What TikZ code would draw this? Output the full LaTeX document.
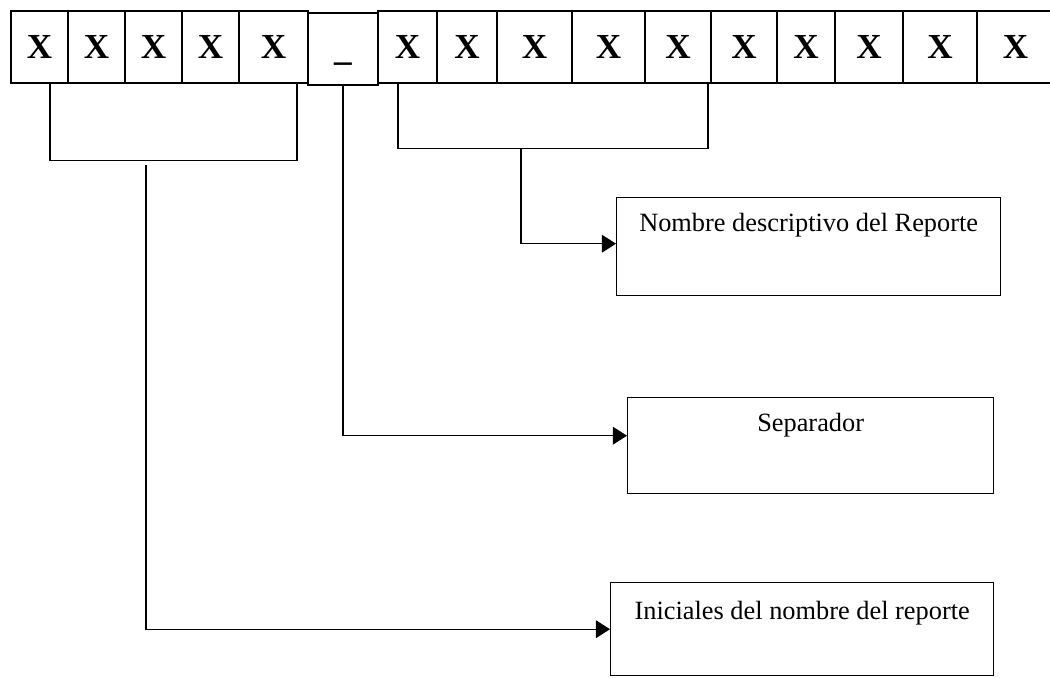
\documentclass[tikz,border=0pt]{standalone}
\usepackage{fontspec}
\setmainfont{Liberation Serif}
\usetikzlibrary{arrows.meta}

\begin{document}
\begin{tikzpicture}[x=0.02cm,y=-0.02cm,line width=0.8pt,
    cell/.style={draw,inner sep=0pt,minimum height=1.44cm,
      text height=13.3pt,text depth=0pt,
      font=\fontsize{20}{24}\selectfont\bfseries},
    infobox/.style={draw,anchor=north west,inner sep=0pt,align=center,
      font=\fontsize{15}{18}\selectfont},
    link/.style={-{Triangle[length=8pt,width=10pt]}}]
      \def\rowy{47}

      \useasboundingbox (0,0) rectangle (1050,677);

      % the row of characters
      \foreach \l/\r/\n in {11/68/1,68/125/2,125/182/3,182/239/4,239/308/5,
          378/437/6,437/497/7,497/572/8,572/645/9,645/711/10,
          711/777/11,777/835/12,835/903/13,903/977/14,977/1054/15}
        \node[cell,minimum width={(\r-\l)*0.02cm}] (c\n) at ({(\l+\r)/2},\rowy) {X};
      \node[cell,minimum width=1.4cm] (sep) at (343,\rowy+2) {\_};

      % boxes
      \node[infobox,minimum width=7.68cm,text height=0.68cm,text depth=1.28cm]
        (desc) at (616,197) {Nombre descriptivo del Reporte};
      \node[infobox,minimum width=7.32cm,text height=0.68cm,text depth=1.24cm]
        (sepbox) at (627,397) {Separador};
      \node[infobox,minimum width=7.66cm,text height=0.74cm,text depth=1.12cm]
        (ini) at (610,582) {Iniciales del nombre del reporte};

      % brackets
      \draw ([xshift=0.21cm]c1.south) -- ++(0,77) -| ([xshift=0.47cm]c5.south);
      \draw ([xshift=-0.19cm]c6.south) -- ++(0,65) -| ([xshift=0.6cm]c10.south);
      \coordinate (lstem) at (146,165);
      \coordinate (rstem) at (521,148);

      % connectors
      \draw[link] (rstem) |- ([yshift=0.06cm]desc.west);
      \draw[link] (sep.south) |- ([yshift=0.2cm]sepbox.west);
      \draw[link] (lstem) |- (ini.west);
\end{tikzpicture}
\end{document}
